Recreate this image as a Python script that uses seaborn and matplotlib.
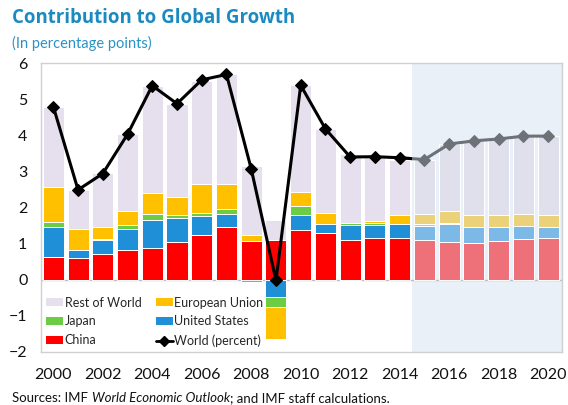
import numpy as np
import pandas as pd
import matplotlib
matplotlib.use("Agg")
import matplotlib.pyplot as plt
import matplotlib.patches as mpatches
from matplotlib.lines import Line2D
import seaborn as sns

years = list(range(2000, 2021))
china = [0.62, 0.61, 0.71, 0.83, 0.88, 1.04, 1.23, 1.46, 1.06, 1.10, 1.37,
         1.28, 1.10, 1.15, 1.15, 1.10, 1.05, 1.01, 1.07, 1.12, 1.15]
united_states = [0.84, 0.21, 0.39, 0.57, 0.77, 0.66, 0.53, 0.35, 0.00, -0.48, 0.42,
                 0.26, 0.41, 0.36, 0.39, 0.38, 0.49, 0.45, 0.39, 0.36, 0.30]
japan = [0.15, 0.00, 0.02, 0.11, 0.16, 0.10, 0.10, 0.14, -0.07, -0.27, 0.25,
         0.00, 0.05, 0.07, 0.00, 0.05, 0.04, 0.01, 0.00, 0.01, 0.00]
european_union = [0.96, 0.57, 0.35, 0.39, 0.58, 0.48, 0.80, 0.71, 0.17, -0.89, 0.38,
                  0.32, -0.05, 0.04, 0.24, 0.30, 0.33, 0.31, 0.32, 0.32, 0.33]
rest_of_world = [2.22, 1.10, 1.49, 2.13, 2.98, 2.58, 2.86, 3.03, 1.92, 0.54, 2.97,
                 2.33, 1.92, 1.79, 1.55, 1.50, 1.85, 2.08, 2.12, 2.17, 2.19]
world = [4.80, 2.49, 2.94, 4.03, 5.38, 4.88, 5.54, 5.69, 3.07, -0.02, 5.39,
         4.18, 3.40, 3.41, 3.38, 3.33, 3.76, 3.85, 3.90, 3.98, 3.98]
first_projection_year = 2015
tick_years = list(range(2000, 2021, 2))

series_names = ["China", "United States", "Japan", "European Union", "Rest of World"]
series_vals = [china, united_states, japan, european_union, rest_of_world]
colors_actual = ["#FF0000", "#1F8FD8", "#6CCC44", "#FFC000", "#E6E0EE"]
colors_proj = ["#EE7078", "#7DB9E6", "#A8DC8C", "#EAD17A", "#DFE0EC"]

df = pd.DataFrame({"year": years, "world": world})
df["pos"] = np.arange(len(years))

sns.set_theme(style="white")
plt.rcParams["font.family"] = ["Lato", "DejaVu Sans"]

fig = plt.figure(figsize=(5.68, 4.05), dpi=100)
ax = fig.add_axes([0.0727, 0.1316, 0.9167, 0.7121])

n = len(years)
x = np.arange(n)
proj_idx = years.index(first_projection_year)

# projection shading
ax.axvspan(proj_idx - 0.5, 20.56, color="#E9F0F8", zorder=0, lw=0)

pos_bottom = np.zeros(n)
neg_bottom = np.zeros(n)
for name, vals, ca, cp in zip(series_names, series_vals, colors_actual, colors_proj):
    v = np.array(vals)
    bottoms = np.where(v >= 0, pos_bottom, neg_bottom)
    cols = [ca if i < proj_idx else cp for i in range(n)]
    ax.bar(x, v, bottom=bottoms, width=0.85, color=cols, edgecolor="white",
           linewidth=0.7, zorder=2)
    pos_bottom += np.where(v >= 0, v, 0)
    neg_bottom += np.where(v < 0, v, 0)

ax.axhline(0, color="#BFBFBF", lw=1.0, zorder=1.5)

# World line: projection part in gray, actual part in black
dproj = df[df["pos"] >= proj_idx - 1]
sns.lineplot(data=dproj, x="pos", y="world", ax=ax, color="#6D7279", lw=2.2,
             marker="D", markersize=6, markeredgecolor="#6D7279", zorder=4)
dact = df[df["pos"] <= proj_idx]
sns.lineplot(data=dact, x="pos", y="world", ax=ax, color="black", lw=2.2,
             marker="D", markersize=6, markeredgecolor="black", zorder=5,
             markevery=list(range(len(dact) - 1)))
blk = ax.lines[-1]
clip = mpatches.Rectangle((-1, -5), proj_idx - 0.5 + 1, 15, transform=ax.transData)
blk.set_clip_path(clip)

ax.set_xlim(-0.485, 20.56)
ax.set_ylim(-2, 6)
ax.set_yticks(range(-2, 7))
ax.set_xticks([years.index(t) for t in tick_years])
ax.set_xticklabels([str(t) for t in tick_years])
ax.tick_params(axis="both", length=0, labelsize=11.5, colors="#111111")
ax.tick_params(axis="y", pad=10)
ax.tick_params(axis="x", pad=12)
ax.set_xlabel("")
ax.set_ylabel("")
for s in ax.spines.values():
    s.set_color("#D0D0D0")
    s.set_linewidth(1.0)

handles = [
    mpatches.Patch(facecolor=colors_actual[4], edgecolor="none", label="Rest of World"),
    mpatches.Patch(facecolor=colors_actual[2], edgecolor="none", label="Japan"),
    mpatches.Patch(facecolor=colors_actual[0], edgecolor="none", label="China"),
    mpatches.Patch(facecolor=colors_actual[3], edgecolor="none", label="European Union"),
    mpatches.Patch(facecolor=colors_actual[1], edgecolor="none", label="United States"),
    Line2D([], [], color="black", lw=2, marker="D", markersize=5, label="World (percent)"),
]
leg = ax.legend(handles=handles, ncol=2, loc="lower left", bbox_to_anchor=(0.005, 0.008),
                frameon=False, fontsize=9, handlelength=1.3, handleheight=0.6,
                handletextpad=0.15, columnspacing=1.2, labelspacing=0.55,
                borderpad=0.2, borderaxespad=0.0)
leg.set_zorder(10)

fig.text(0.022, 0.955, "Contribution to Global Growth", fontsize=13.4, fontweight="bold",
         color="#1A8AC0", family=["Open Sans", "DejaVu Sans"], va="center")
fig.text(0.022, 0.893, "(In percentage points)", fontsize=10.5, color="#2A93C6",
         va="center")
t1 = fig.text(0.022, 0.018, "Sources: IMF ", fontsize=9.5, color="#111111", va="center")
fig.canvas.draw()
r = fig.canvas.get_renderer()
bb = t1.get_window_extent(r)
t2 = fig.text(bb.x1 / fig.bbox.width, 0.018, "World Economic Outlook", fontsize=9.5,
              style="italic", color="#111111", va="center")
bb2 = t2.get_window_extent(r)
fig.text(bb2.x1 / fig.bbox.width, 0.018, "; and IMF staff calculations.", fontsize=9.5,
         color="#111111", va="center")

fig.savefig("out.png", dpi=100)
